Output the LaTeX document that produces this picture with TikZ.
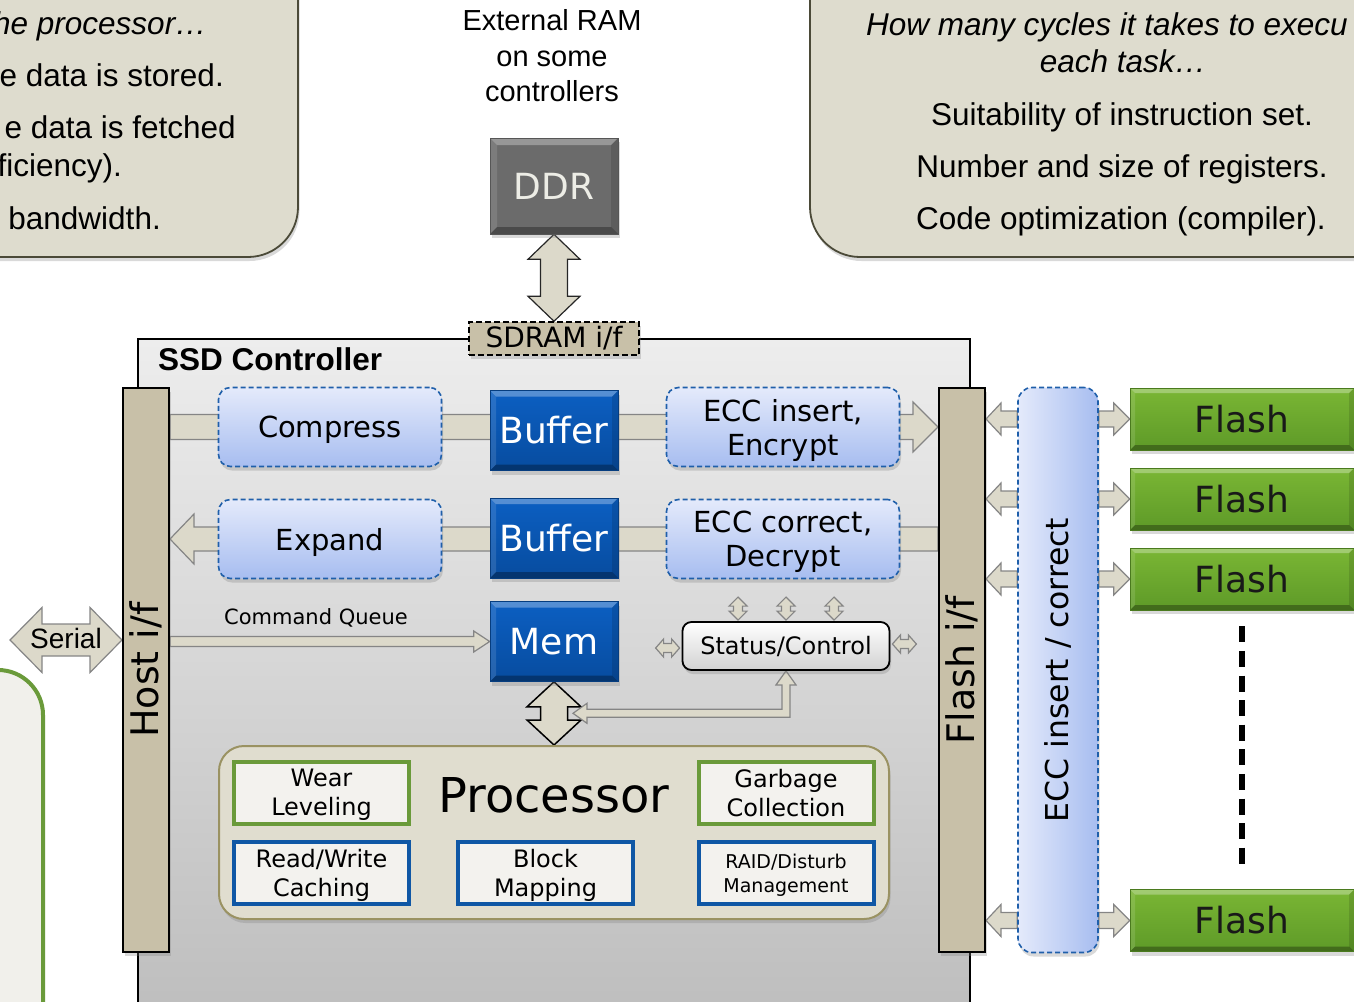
\documentclass[tikz,border=0pt]{standalone}
\usepackage{fontspec}
\usepackage{graphicx}
\setmainfont{Liberation Sans}
\newfontfamily\blockfont{DejaVu Sans}
\usetikzlibrary{calc, shadows, backgrounds}

\definecolor{calloutfill}{HTML}{DEDCCE}
\definecolor{calloutline}{HTML}{4B4A38}
\definecolor{tanbar}{HTML}{C8C0A8}
\definecolor{pipe}{HTML}{DCD9CA}
\definecolor{pipeline}{HTML}{858585}
\definecolor{dashblue}{HTML}{1F5FAA}
\definecolor{softtop}{HTML}{E4EAFB}
\definecolor{softbot}{HTML}{A7BDF0}
\definecolor{buftop}{HTML}{0C5FC2}
\definecolor{bufbot}{HTML}{074C9F}
\definecolor{flashtop}{HTML}{7AB634}
\definecolor{flashbot}{HTML}{5E9A28}
\definecolor{flashdark}{HTML}{4A7A1E}
\definecolor{ddrgrey}{HTML}{6B6B6B}
\definecolor{ddrtext}{HTML}{EDEDE6}
\definecolor{procfill}{HTML}{E0DDCF}
\definecolor{procline}{HTML}{9A9262}
\definecolor{taskgreen}{HTML}{6A9A3A}
\definecolor{taskblue}{HTML}{0F57A5}
\definecolor{taskfill}{HTML}{F3F2EE}
\definecolor{ctrltop}{HTML}{EDEDED}
\definecolor{ctrlbot}{HTML}{BEBEBE}
\definecolor{statgrey}{HTML}{D2D2D2}
\definecolor{notefill}{HTML}{F1F0EB}

\newcommand{\fsz}[2]{\fontsize{#1}{#2}\selectfont}

% fat arrow, head at the second point
% #2 from, #3 to, #4 half shaft, #5 half head, #6 head length
\newcommand{\fatarrow}[6][]{%
  \filldraw[fatpipe,#1] let \p1=#2, \p2=#3, \n1={atan2(\y2-\y1,\x2-\x1)} in
    ($(\p1)+(\n1+90:#4)$) -- ($(\p2)+(\n1+180:#6)+(\n1+90:#4)$)
    -- ($(\p2)+(\n1+180:#6)+(\n1+90:#5)$) -- (\p2)
    -- ($(\p2)+(\n1+180:#6)+(\n1-90:#5)$)
    -- ($(\p2)+(\n1+180:#6)+(\n1-90:#4)$)
    -- ($(\p1)+(\n1-90:#4)$) -- cycle;}

% fat arrow, heads at both ends
\newcommand{\fatdarrow}[6][]{%
  \filldraw[fatpipe,#1] let \p1=#2, \p2=#3, \n1={atan2(\y2-\y1,\x2-\x1)} in
    (\p1) -- ($(\p1)+(\n1:#6)+(\n1+90:#5)$) -- ($(\p1)+(\n1:#6)+(\n1+90:#4)$)
    -- ($(\p2)+(\n1+180:#6)+(\n1+90:#4)$) -- ($(\p2)+(\n1+180:#6)+(\n1+90:#5)$)
    -- (\p2) -- ($(\p2)+(\n1+180:#6)+(\n1-90:#5)$) -- ($(\p2)+(\n1+180:#6)+(\n1-90:#4)$)
    -- ($(\p1)+(\n1:#6)+(\n1-90:#4)$) -- ($(\p1)+(\n1:#6)+(\n1-90:#5)$) -- cycle;}

\begin{document}
\begin{tikzpicture}[
    x=1pt, y=-1pt,
    fatpipe/.style={fill=pipe, draw=pipeline, line width=1.2},
    shadowed/.style={drop shadow={shadow xshift=1.5pt, shadow yshift=-4pt, opacity=0.3}},
    bevel/.style={path picture={
        \path (path picture bounding box.north west) coordinate (bnw)
              (path picture bounding box.north east) coordinate (bne)
              (path picture bounding box.south west) coordinate (bsw)
              (path picture bounding box.south east) coordinate (bse);
        \fill[white, opacity=0.3] (bnw) -- (bne) -- ([shift={(-#1,-#1)}]bne) -- ([shift={(#1,-#1)}]bnw) -- cycle;
        \fill[white, opacity=0.12] (bnw) -- (bsw) -- ([shift={(#1,#1)}]bsw) -- ([shift={(#1,-#1)}]bnw) -- cycle;
        \fill[black, opacity=0.12] (bne) -- (bse) -- ([shift={(-#1,#1)}]bse) -- ([shift={(-#1,-#1)}]bne) -- cycle;
        \fill[black, opacity=0.3] (bsw) -- (bse) -- ([shift={(-#1,#1)}]bse) -- ([shift={(#1,#1)}]bsw) -- cycle;}},
    bevel/.default=6pt,
    callout/.style={fill=calloutfill, draw=calloutline, line width=1.8, rounded corners=50, shadowed},
    calltext/.style={font=\fsz{31.5}{36}, inner sep=0},
    ifbar/.style={draw=black, line width=2, fill=tanbar, minimum width=46, minimum height=564,
        inner sep=0, shadowed, font=\blockfont\fsz{38}{40}},
    eccstrip/.style={draw=dashblue, line width=1.6, dash pattern=on 5pt off 3pt, rounded corners=14,
        left color=softtop, right color=softbot, minimum width=80, minimum height=565,
        inner sep=0, font=\blockfont\fsz{31.5}{34}, shadowed},
    softbox/.style={draw=dashblue, line width=1.6, dash pattern=on 5pt off 3pt, rounded corners=12,
        top color=softtop, bottom color=softbot, minimum width=223, minimum height=79,
        inner sep=0, text depth=0pt, align=center, font=\blockfont\fsz{29}{34}, shadowed},
    bufbox/.style={draw=bufbot!80!black, line width=0.6, top color=buftop, bottom color=bufbot, bevel,
        text=white, font=\blockfont\fsz{36}{40}, minimum width=128, minimum height=80, inner sep=0, shadowed},
    flashbox/.style={draw=flashdark, line width=0.6, top color=flashtop, bottom color=flashbot, bevel=5pt,
        text=black!90, font=\blockfont\fsz{36}{40}, minimum width=224, minimum height=62, inner sep=0, shadowed},
    ddrbox/.style={draw=ddrgrey!80!black, line width=0.6, fill=ddrgrey, bevel=7pt, text=ddrtext,
        font=\blockfont\fsz{36}{40}, minimum width=128, minimum height=96, inner sep=0, shadowed},
    sdrambox/.style={draw=black, line width=1.5, dash pattern=on 6pt off 3pt, fill=tanbar,
        minimum width=170, minimum height=33, inner sep=0, font=\blockfont\fsz{28}{30}, shadowed},
    statbox/.style={draw=black, line width=1.8, rounded corners=9, top color=white, bottom color=statgrey,
        minimum width=207, minimum height=48, inner sep=0, font=\blockfont\fsz{24}{28}, shadowed},
    procbox/.style={fill=procfill, draw=procline, line width=2, rounded corners=25,
        minimum width=670, minimum height=173, shadowed},
    taskbox/.style={fill=taskfill, line width=4, minimum width=175, minimum height=62,
        inner sep=0, text depth=0pt, align=center, font=\blockfont\fsz{24}{29}},
  ]
  \useasboundingbox (0,0) rectangle (1354,1001);
  \clip (0,0) rectangle (1354,1001);

  % notes at the top
  \draw[callout] (-60,-60) rectangle (298,257);
  \node[calltext, anchor=base east] (l1) at (207,34) {\itshape he processor…};
  \node[calltext, anchor=base east] (l2) at (224,86) {e data is stored.};
  \node[calltext, anchor=base east] (l3) at (236,138) {e data is fetched};
  \node[calltext, anchor=base east] (l4) at (122,176) {ficiency).};
  \node[calltext, anchor=base east] (l5) at (161,229) {bandwidth.};

  \draw[callout] (810,-60) rectangle (1420,257);
  \node[calltext, anchor=base west] (r1) at (866,35) {\itshape How many cycles it takes to execu};
  \node[calltext, anchor=base] (r2) at (1123,72) {\itshape each task…};
  \node[calltext, anchor=base] (r3) at (1122,125) {Suitability of instruction set.};
  \node[calltext, anchor=base] (r4) at (1122,177) {Number and size of registers.};
  \node[calltext, anchor=base] (r5) at (1121,229) {Code optimization (compiler).};

  \draw[line width=4, draw=taskgreen, fill=notefill, rounded corners=45] (-60,670) rectangle (43,1060);

  % external memory
  \node[align=center, font=\fsz{29}{35.5}] (ext) at (552,56) {External RAM\\on some\\controllers};
  \node[ddrbox] (ddr) at (554,186) {DDR};

  \begin{pgfonlayer}{background}
    \draw[line width=1.5, top color=ctrltop, bottom color=ctrlbot] (138,339) rectangle (970,1012);
  \end{pgfonlayer}
  \node[anchor=west, inner sep=0, font=\bfseries\fsz{31.5}{36}] (ctrl) at (158,359) {SSD Controller};
  \node[sdrambox] (sdram) at (554,338.5) {SDRAM i/f};

  % interfaces
  \node[ifbar] (hostif) at (146,670) {\rotatebox{90}{Host i/f}};
  \node[ifbar] (flashif) at (962,670) {\rotatebox{90}{Flash i/f}};
  \node[eccstrip] (eccbar) at (1058,670) {\rotatebox{90}{ECC insert / correct}};

  % data path
  \node[softbox] (comp) at (330,427) {Compress};
  \node[softbox] (exp) at (330,539) {Expand};
  \node[bufbox] (buf1) at (554,430.5) {Buffer};
  \node[bufbox] (buf2) at (554,538) {Buffer};
  \node[bufbox] (mem) at (554,641.5) {Mem};
  \node[softbox, minimum width=233] (enc) at (783,427) {ECC insert,\\Encrypt};
  \node[softbox, minimum width=233] (dec) at (783,539) {ECC correct,\\Decrypt};
  \node[font=\blockfont\fsz{21}{24}] (cq) at (316,618) {Command Queue};
  \node[statbox] (stat) at (786,646) {Status/Control};

  % processor
  \node[procbox] (proc) at (554,832.5) {};
  \node[font=\blockfont\fsz{48}{52}] (ptitle) at (554,795) {Processor};
  \node[taskbox, draw=taskgreen] (wear) at (321.5,792.5) {Wear\\Leveling};
  \node[taskbox, draw=taskgreen] (gc) at (786,792.5) {Garbage\\Collection};
  \node[taskbox, draw=taskblue] (rw) at (321.5,873) {Read/Write\\Caching};
  \node[taskbox, draw=taskblue] (map) at (545.5,873) {Block\\Mapping};
  \node[taskbox, draw=taskblue, font=\blockfont\fsz{19}{24}] (raid) at (786,873) {RAID/Disturb\\Management};

  % flash devices
  \foreach \i/\y in {1/419,2/499,3/579,4/920.5}
    \node[flashbox] (flash\i) at (1242,\y) {Flash};
  \draw[line width=6, dash pattern=on 16pt off 8.6pt]
    ($(flash3.south)+(0,16)$) -- ($(flash4.north)+(0,-18)$);

  \coordinate (serL) at (10,640);
  \node[font=\fsz{28}{30}] (serial) at (66,638) {Serial};

  % pipes go under the boxes
  \begin{pgfonlayer}{background}
    \fatarrow{(hostif.east |- comp)}{(flashif.west |- comp)}{12.5pt}{25pt}{25pt}
    \fatarrow{(flashif.west |- exp)}{(hostif.east |- exp)}{12pt}{25pt}{24pt}
    \fatarrow{(hostif.east |- mem)}{(mem.west)}{5pt}{10.5pt}{16pt}
    \fatdarrow{(serL)}{(hostif.west |- serL)}{16pt}{32.5pt}{32pt}
    \fatdarrow[draw=black!85]{(ddr.south)}{(sdram.north)}{13.5pt}{26pt}{25pt}
    \fatdarrow[draw=black, line width=1.5]{(mem.south)}{(proc.north)}{13.5pt}{27pt}{25pt}
    \coordinate (lnk) at ($(mem.south)+(19,31.5)$);
    \filldraw[fatpipe] (stat.south) -- ++(10,14) -- ++(-6,0) |- ($(lnk)+(14,4)$) -- ++(0,6) -- (lnk)
      -- ++(14,-10) -- ++(0,6) -| ($(stat.south)+(-4,14)$) -- ++(-6,0) -- cycle;
    \foreach \dx in {-48,0,48} {
      \fatdarrow{($(stat.north)+(\dx,-24)$)}{($(stat.north)+(\dx,-1)$)}{4.5pt}{9pt}{9pt}
    }
    \fatdarrow{($(stat.west)+(-26,2)$)}{($(stat.west)+(-2,2)$)}{4.5pt}{9pt}{8pt}
    \fatdarrow{($(stat.east)+(2,-2)$)}{($(stat.east)+(26,-2)$)}{4.5pt}{9pt}{8pt}
    \foreach \i in {1,...,4} {
      \fatarrow{(eccbar.west |- flash\i)}{(flashif.east |- flash\i)}{8pt}{16pt}{15pt}
      \fatarrow{(eccbar.east |- flash\i)}{(flash\i.west)}{8pt}{16pt}{16pt}
    }
  \end{pgfonlayer}
\end{tikzpicture}
\end{document}
